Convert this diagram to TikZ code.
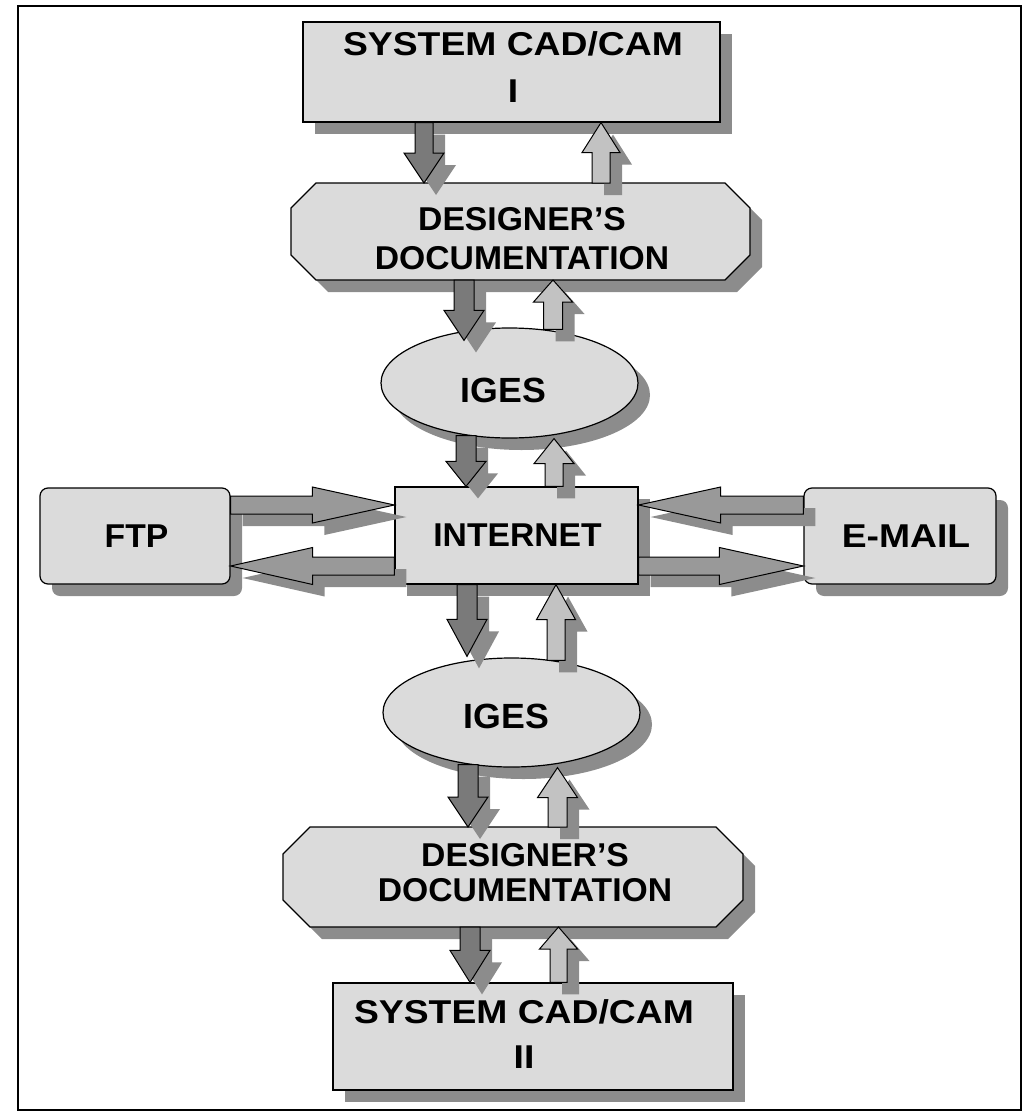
\documentclass[tikz,border=0pt]{standalone}
\usepackage{fontspec}
\setmainfont{Liberation Sans}
\newfontfamily\labn[FakeStretch=1.02]{Liberation Sans}
\newfontfamily\labw[FakeStretch=1.13]{Liberation Sans}
\usetikzlibrary{shapes.geometric,shadows,calc}
\definecolor{boxc}{gray}{0.86}
\definecolor{shadc}{gray}{0.55}
\definecolor{downc}{gray}{0.48}
\definecolor{upc}{gray}{0.76}
\definecolor{sidec}{gray}{0.6}
\tikzset{
  shad/.style={drop shadow={shadow xshift=12pt,shadow yshift=-12pt,opacity=1,fill=shadc}},
  boxshape/.style={draw=black,line width=1.2pt,fill=boxc,shad,inner sep=0pt},
  rectbox/.style={boxshape,rectangle},
  roundbox/.style={boxshape,rectangle,rounded corners=8pt},
  ovalbox/.style={boxshape,ellipse},
  docshape/.style={draw=black,line width=1.2pt,fill=boxc,shad},
  downarr/.style={draw=black,line width=1pt,fill=downc,shad},
  uparr/.style={draw=black,line width=1pt,fill=upc,shad},
  sidearr/.style={draw=black,line width=1pt,fill=sidec,shad},
  lbl/.style={inner sep=0pt,align=center,text=black},
}
% vertical block arrow: style, x, from, to, shaft half width, head half width, head length
\newcommand\varrow[7]{%
  \path[#1] let \p1=(#3), \p2=(#4), \n1={ifthenelse(\y2<\y1,1,-1)} in
  ({(#2-#5)*1pt},\y1) -- ({(#2-#5)*1pt},{\y2+\n1*#7pt}) -- ({(#2-#6)*1pt},{\y2+\n1*#7pt})
  -- ({#2*1pt},\y2) -- ({(#2+#6)*1pt},{\y2+\n1*#7pt}) -- ({(#2+#5)*1pt},{\y2+\n1*#7pt})
  -- ({(#2+#5)*1pt},\y1) -- cycle;}
% horizontal block arrow: style, y, from, to, shaft half width, head half width, head length
\newcommand\harrow[7]{%
  \path[#1] let \p1=(#3), \p2=(#4), \n1={ifthenelse(\x2<\x1,1,-1)} in
  (\x1,{(-#2+#5)*1pt}) -- ({\x2+\n1*#7pt},{(-#2+#5)*1pt}) -- ({\x2+\n1*#7pt},{(-#2+#6)*1pt})
  -- (\x2,{-#2*1pt}) -- ({\x2+\n1*#7pt},{(-#2-#6)*1pt}) -- ({\x2+\n1*#7pt},{(-#2-#5)*1pt})
  -- (\x1,{(-#2-#5)*1pt}) -- cycle;}
\begin{document}
\begin{tikzpicture}[x=1pt,y=-1pt]
\useasboundingbox (0,0) rectangle (1030,1113);
\draw[line width=1.2pt] (18,6) rectangle (1021,1110);

% boxes
\node[rectbox,minimum width=417pt,minimum height=100pt] (top) at (511.5,72) {};
\filldraw[docshape] (316,183) -- (725,183) -- (750,208) -- (750,255) -- (725,280) -- (316,280) -- (291,255) -- (291,208) -- cycle;
\coordinate (d1n) at (520,183);
\coordinate (d1s) at (520,280);
\node[ovalbox,minimum width=257pt,minimum height=110pt] (iges1) at (509.5,383) {};
\node[rectbox,minimum width=243pt,minimum height=97pt] (inet) at (516.5,535.5) {};
\node[roundbox,minimum width=190pt,minimum height=96pt] (ftp) at (135,536) {};
\node[roundbox,minimum width=192pt,minimum height=96pt] (mail) at (900,536) {};
\node[ovalbox,minimum width=257pt,minimum height=109pt] (iges2) at (511.5,712.5) {};
\filldraw[docshape] (310,827) -- (716,827) -- (743,854) -- (743,900) -- (716,927) -- (310,927) -- (283,900) -- (283,854) -- cycle;
\coordinate (d2n) at (513,827);
\coordinate (d2s) at (513,927);
\node[rectbox,minimum width=400pt,minimum height=107pt] (bot) at (533,1036.5) {};

% vertical arrows
\varrow{downarr}{424}{top.south}{d1n}{9}{20}{30}
\varrow{uparr}{601}{d1n}{top.south}{9}{19}{30}
\varrow{downarr}{464}{d1s}{$(iges1.north)+(0,13)$}{10}{20}{30}
\varrow{uparr}{553}{$(iges1.north)+(0,2)$}{d1s}{9.5}{19.5}{22}
\varrow{downarr}{466}{$(iges1.south)+(0,-3)$}{inet.north}{10}{20}{25}
\varrow{uparr}{554}{inet.north}{iges1.south}{9}{20}{25}
\varrow{downarr}{467}{inet.south}{$(iges2.north)+(0,-1)$}{10}{20}{37}
\varrow{uparr}{556}{$(iges2.north)+(0,3)$}{inet.south}{9}{19.5}{35}
\varrow{downarr}{468}{$(iges2.south)+(0,-3)$}{d2n}{10}{20}{30}
\varrow{uparr}{557.5}{d2n}{iges2.south}{9.5}{20}{30}
\varrow{downarr}{470}{d2s}{bot.north}{10}{20}{32}
\varrow{uparr}{558.5}{bot.north}{d2s}{8.5}{19}{22}

% horizontal arrows
\harrow{sidearr}{505}{ftp.east}{inet.west}{9}{18}{82}
\harrow{sidearr}{566}{inet.west}{ftp.east}{9}{18.5}{82}
\harrow{sidearr}{505}{mail.west}{inet.east}{9}{18}{82}
\harrow{sidearr}{566}{inet.east}{mail.west}{9}{18.5}{84}

% texts
\node[lbl,font={\labw\bfseries\fontsize{33}{47}\selectfont}] (ttop) at (513,67.5) {SYSTEM CAD/CAM\\I};
\node[lbl,font={\labn\bfseries\fontsize{33}{39}\selectfont}] (td1) at (522,239) {DESIGNER’S\\DOCUMENTATION};
\node[lbl,anchor=base,font={\labn\bfseries\fontsize{35}{40}\selectfont}] (tiges1) at (503.5,402) {IGES};
\node[lbl,anchor=base,font={\labn\bfseries\fontsize{33}{39}\selectfont}] (tinet) at (517.5,546) {INTERNET};
\node[lbl,anchor=base,font={\labn\bfseries\fontsize{33}{39}\selectfont}] (tftp) at (136.5,547) {FTP};
\node[lbl,anchor=base,font={\labw\bfseries\fontsize{33}{39}\selectfont}] (tmail) at (906,547) {E-MAIL};
\node[lbl,anchor=base,font={\labn\bfseries\fontsize{35}{40}\selectfont}] (tiges2) at (506.5,728) {IGES};
\node[lbl,font={\labn\bfseries\fontsize{33}{35}\selectfont}] (td2) at (525,872.5) {DESIGNER’S\\DOCUMENTATION};
\node[lbl,font={\labw\bfseries\fontsize{33}{45}\selectfont}] (tbot) at (524,1034) {SYSTEM CAD/CAM\\II};
\end{tikzpicture}
\end{document}
